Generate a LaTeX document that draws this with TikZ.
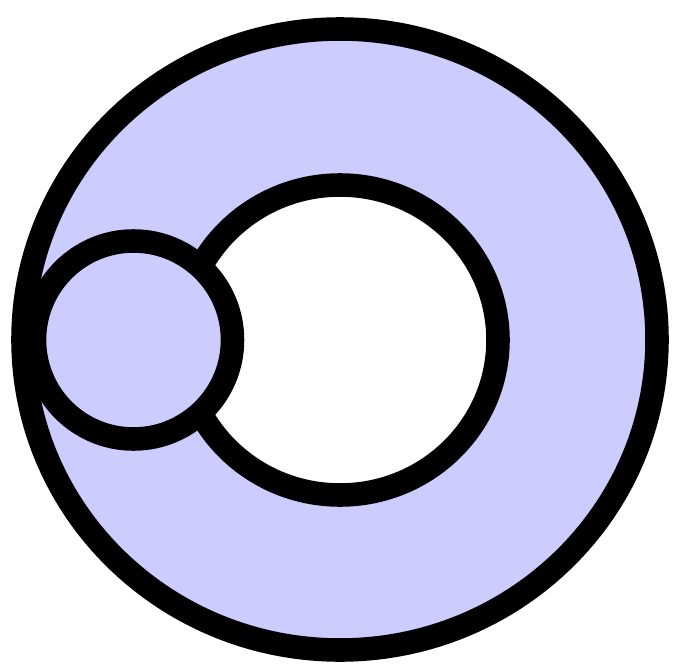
\documentclass[tikz,border=0pt]{standalone}
\usepackage{tikz}
\usetikzlibrary{backgrounds}
\definecolor{lavender}{rgb}{0.8, 0.8, 1.0}
\tikzstyle{rim} = [draw=black, line width=13.4pt]

\begin{document}
\begin{tikzpicture}

    \useasboundingbox (0,0) rectangle (13.54,-13.28);

    % Outer disc
    \draw[rim, fill=lavender] (6.8,-6.79) ellipse (6.34 and 6.21);

    % Hole in the middle
    \draw[rim, fill=white] (6.8,-6.8) ellipse (3.16 and 3.10);

    % Small disc on the left
    \draw[rim, fill=lavender] (2.67,-6.8) circle (1.98);

\end{tikzpicture}
\end{document}
